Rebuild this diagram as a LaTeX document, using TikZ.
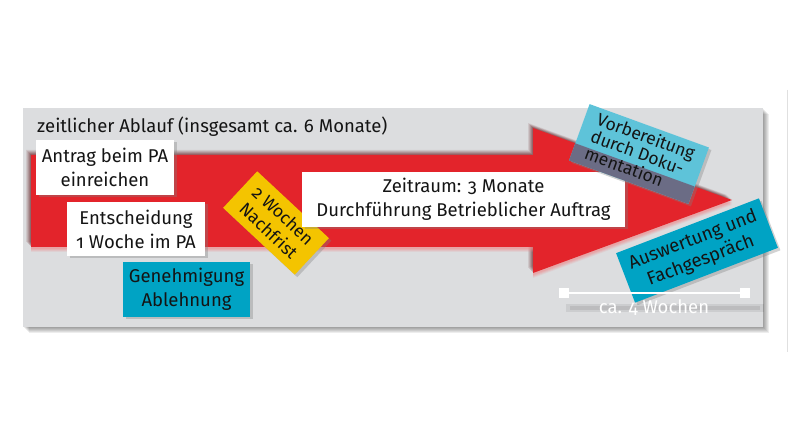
\documentclass[tikz,border=0pt]{standalone}
\usepackage{fontspec}
\setmainfont{Fira Sans}[Numbers=OldStyle]
\usetikzlibrary{shadows}
\definecolor{panelgray}{RGB}{220,221,223}
\definecolor{arrowred}{RGB}{227,36,43}
\definecolor{darkred}{RGB}{90,10,15}
\definecolor{teal}{RGB}{0,163,196}
\definecolor{lightcyan}{RGB}{94,195,217}
\definecolor{slate}{RGB}{107,108,133}
\definecolor{yellowbox}{RGB}{244,196,0}
\definecolor{txt}{RGB}{20,20,20}
\tikzset{
  boxbase/.style={inner sep=0pt, align=center, text=txt, font=\fontsize{18.5}{24}\selectfont,
     drop shadow={shadow xshift=2.5pt, shadow yshift=-2.5pt, opacity=0.35}},
  whitebox/.style={boxbase, fill=white},
  tealbox/.style={boxbase, fill=teal},
}
\begin{document}
\begin{tikzpicture}[x=1pt,y=-1pt]
\useasboundingbox (0,0) rectangle (788,443);
\fill[white] (0,0) rectangle (788,443);
% panel shadow
\foreach \i in {1,...,6} {
  \fill[black,opacity=0.07] (23+\i,108+\i) rectangle (763+\i,327+\i);
}
\fill[panelgray] (23,108) rectangle (763,327);
\draw[black!12, line width=0.8pt] (787,90) -- (787,352);
% title
\node[anchor=west, text=txt, font=\fontsize{18.5}{22}\selectfont, inner sep=0pt] (title) at (37,127) {zeitlicher Ablauf (insgesamt ca. 6 Monate)};
% arrow
\def\arrowpath{(31,155) -- (533,155) -- (533,128) -- (732,200) -- (533,273) -- (533,247) -- (31,247) -- cycle}
\foreach \i/\o in {5/0.1,4/0.12,3/0.15,2/0.18,1/0.2} {
  \fill[darkred,opacity=\o,shift={(-\i,-\i)}] \arrowpath;
}
\foreach \i/\o in {5/0.15,4/0.2,3/0.25,2/0.3} {
  \fill[arrowred!55!white,opacity=\o,shift={(0,\i)}] \arrowpath;
}
\fill[arrowred] \arrowpath;
% boxes
\node[whitebox, minimum width=138pt, minimum height=55pt] (antrag) at (105,167.5) {Antrag beim PA\\einreichen};
\node[whitebox, minimum width=138pt, minimum height=54pt] (entsch) at (136,229) {Entscheidung\\1 Woche im PA};
\node[tealbox, minimum width=127pt, minimum height=55pt] (genehm) at (186.5,289.5) {Genehmigung\\Ablehnung};
\node[boxbase, fill=yellowbox, minimum width=98pt, minimum height=50pt, rotate=-43, font=\fontsize{17.5}{21}\selectfont] (frist) at (276,223) {2 Wochen\\Nachfrist};
\node[whitebox, minimum width=323pt, minimum height=55pt] (zeitraum) at (463.5,199.5) {Zeitraum: 3 Monate\\Durchführung Betrieblicher Auftrag};
% Vorbereitung box (semi transparent look)
\node[boxbase, fill=lightcyan, minimum width=127pt, minimum height=60pt, rotate=-20] (vbbg) at (639,154) {};
\begin{scope}
  \clip \arrowpath;
  \node[inner sep=0pt, fill=slate, minimum width=127pt, minimum height=60pt, rotate=-20] (vbov) at (639,154) {};
\end{scope}
\node[inner sep=0pt, align=left, text=txt, rotate=-20, font=\fontsize{17.5}{18}\selectfont] (vb) at (640,153) {Vorbereitung\\durch Doku-\\mentation};
% Auswertung
\node[tealbox, minimum width=153pt, minimum height=53pt, rotate=21, font=\fontsize{18.5}{22}\selectfont] (ausw) at (697,250.5) {Auswertung und\\Fachgespräch};
% dimension line
\fill[black,opacity=0.07] (566,304) rectangle (764,312);
\fill[black,opacity=0.08] (570,306) rectangle (760,310);
\coordinate (dimL) at (564,293);
\coordinate (dimR) at (745,293);
\draw[white, line width=2.5pt] (dimL) -- (dimR);
\fill[white] (dimL) +(-5,-5) rectangle +(5,5);
\fill[white] (dimR) +(-5,-5) rectangle +(5,5);
\node[text=white, font=\fontsize{18.5}{22}\selectfont, inner sep=0pt] (vier) at (654,308) {ca. 4 Wochen};
\end{tikzpicture}
\end{document}
